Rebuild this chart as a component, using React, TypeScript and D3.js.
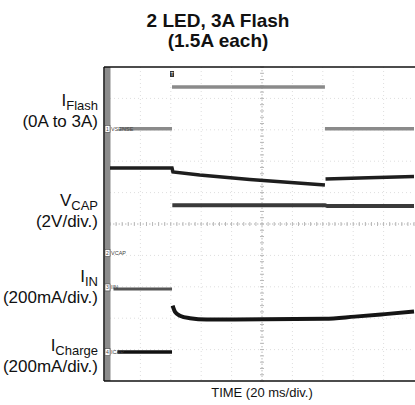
import React from "react";
import * as d3 from "d3";

// ---- data (time in ms, value in screen divisions from bottom) ----
const titleLines = ["2 LED, 3A Flash", "(1.5A each)"];
const xLabel = "TIME (20 ms/div.)";
const xDomainMs = [0, 200];
const yDomainDiv = [0, 10];

const iFlashLow1: [number, number][] = [[6.5, 8.03], [40.8, 8.03]];
const iFlashHigh: [number, number][] = [[40.8, 9.36], [141.4, 9.36]];
const iFlashLow2: [number, number][] = [[141.4, 8.03], [200, 8.03]];

const vcapBefore: [number, number][] = [[0, 6.78], [40.8, 6.78], [41.4, 6.66], [59, 6.56], [92, 6.42], [141.4, 6.24]];
const vcapAfter: [number, number][] = [[141.8, 6.43], [170, 6.47], [200, 6.51]];

const iChargeBefore: [number, number][] = [[4.9, 0.92], [40.8, 0.92]];
const iChargeAfter: [number, number][] = [[41, 5.6], [141.4, 5.6], [143, 5.57], [200, 5.57]];

const iInBefore: [number, number][] = [[2.3, 2.93], [40.8, 2.93]];
const iInAfter: [number, number][] = [
  [41.2, 2.4], [42.8, 2.2], [46, 2.08], [52.6, 2.0], [63.6, 1.96], [141.4, 1.98],
  [161, 2.05], [181, 2.13], [200, 2.21],
];

const channelMarkers = [
  { n: "1", name: "VSENSE", div: 8.03 },
  { n: "2", name: "VCAP", div: 4.08 },
  { n: "3", name: "IIN", div: 2.98 },
  { n: "4", name: "ICAP", div: 0.92 },
];

const sideLabels = [
  { main: "I", sub: "Flash", unit: "(0A to 3A)", y: 100 },
  { main: "V", sub: "CAP", unit: "(2V/div.)", y: 200 },
  { main: "I", sub: "IN", unit: "(200mA/div.)", y: 276 },
  { main: "I", sub: "Charge", unit: "(200mA/div.)", y: 345 },
];

const W = 415, H = 405;
const plotL = 110, plotR = 414, plotT = 67, plotB = 381;

export default function App() {
  const x = d3.scaleLinear().domain(xDomainMs).range([plotL, plotR]);
  const y = d3.scaleLinear().domain(yDomainDiv).range([plotB, plotT]);
  const line = d3.line<[number, number]>().x((d) => x(d[0])).y((d) => y(d[1]));
  const curve = d3.line<[number, number]>().x((d) => x(d[0])).y((d) => y(d[1])).curve(d3.curveMonotoneX);

  const xDivs = d3.range(0, 11).map((i) => xDomainMs[0] + (i * (xDomainMs[1] - xDomainMs[0])) / 10);
  const yDivs = d3.range(0, 11);
  const xMinor = d3.range(0, 51).map((i) => i * 4);
  const yMinor = d3.range(0, 51).map((i) => i * 0.2);
  const cx = x(100), cy = y(5);
  const font = "Liberation Sans, Arial, sans-serif";

  return (
    <div style={{ position: "absolute", left: 0, top: 0 }}>
      <svg width={W} height={H} style={{ display: "block", background: "#fff" }}>
        <g fontFamily={font} fontWeight="bold" fontSize={19} textAnchor="middle" fill="#111">
          {titleLines.map((t, i) => (
            <text key={i} x={218} y={27 + i * 20}>{t}</text>
          ))}
        </g>

        {/* grid */}
        <g stroke="#dedede" strokeWidth={1} strokeDasharray="1,3">
          {xDivs.slice(1, 10).map((v) => (
            <line key={"gx" + v} x1={x(v)} x2={x(v)} y1={plotT} y2={plotB} />
          ))}
          {yDivs.slice(1, 10).map((v) => (
            <line key={"gy" + v} x1={plotL} x2={plotR} y1={y(v)} y2={y(v)} />
          ))}
        </g>
        {/* center axes with ticks */}
        <g stroke="#b8b8b8" strokeWidth={1}>
          <line x1={plotL} x2={plotR} y1={cy} y2={cy} strokeDasharray="1,2" />
          <line x1={cx} x2={cx} y1={plotT} y2={plotB} strokeDasharray="1,2" />
          {xMinor.map((v) => (
            <line key={"tx" + v} x1={x(v)} x2={x(v)} y1={cy - 2} y2={cy + 2} />
          ))}
          {yMinor.map((v) => (
            <line key={"ty" + v} x1={cx - 2} x2={cx + 2} y1={y(v)} y2={y(v)} />
          ))}
        </g>

        {/* frame */}
        <rect x={104.5} y={67} width={6} height={plotB - plotT} fill="#8c8c8c" />
        <line x1={104} x2={415} y1={67} y2={67} stroke="#111" strokeWidth={1.5} />
        <line x1={104} x2={415} y1={plotB} y2={plotB} stroke="#111" strokeWidth={1.5} />
        <line x1={104} x2={104} y1={67} y2={plotB} stroke="#111" strokeWidth={1.5} />

        {/* traces */}
        <g fill="none" strokeLinecap="butt">
          {[iFlashLow1, iFlashHigh, iFlashLow2].map((s, i) => (
            <path key={"f" + i} d={line(s) || ""} stroke="#8a8a8a" strokeWidth={3.5} />
          ))}
          {[vcapBefore, vcapAfter].map((s, i) => (
            <path key={"v" + i} d={line(s) || ""} stroke="#1e1e1e" strokeWidth={3.5} />
          ))}
          <path d={line(iChargeBefore) || ""} stroke="#111" strokeWidth={3.5} />
          <path d={line(iChargeAfter) || ""} stroke="#3a3a3a" strokeWidth={4} />
          <path d={line(iInBefore) || ""} stroke="#555" strokeWidth={3} />
          <path d={curve(iInAfter) || ""} stroke="#151515" strokeWidth={4} />
        </g>

        {/* channel markers */}
        <g fontFamily={font} fontSize={5.5} fill="#444">
          {channelMarkers.map((m) => (
            <g key={m.n}>
              <rect x={105} y={y(m.div) - 3.5} width={5} height={7} fill="#fff" stroke="#444" strokeWidth={0.6} />
              <text x={107.5} y={y(m.div) + 2} textAnchor="middle" fontSize={5}>{m.n}</text>
              <text x={111} y={y(m.div) + 2}>{m.name}</text>
            </g>
          ))}
          <rect x={x(40.8) - 2} y={71} width={4} height={6} fill="#333" />
          <text x={x(40.8)} y={76} textAnchor="middle" fontSize={5} fill="#fff">T</text>
        </g>

        {/* side labels */}
        <g fontFamily={font} fontSize={17} fill="#111" textAnchor="end">
          {sideLabels.map((l, i) => (
            <g key={i}>
              <text x={98} y={l.y + 6}>
                <tspan>{l.main}</tspan>
                <tspan fontSize={13} dy={4}>{l.sub}</tspan>
              </text>
              <text x={98} y={l.y + 27}>{l.unit}</text>
            </g>
          ))}
        </g>

        <text x={262} y={397} fontFamily={font} fontSize={13} textAnchor="middle" fill="#111">{xLabel}</text>
      </svg>
    </div>
  );
}
